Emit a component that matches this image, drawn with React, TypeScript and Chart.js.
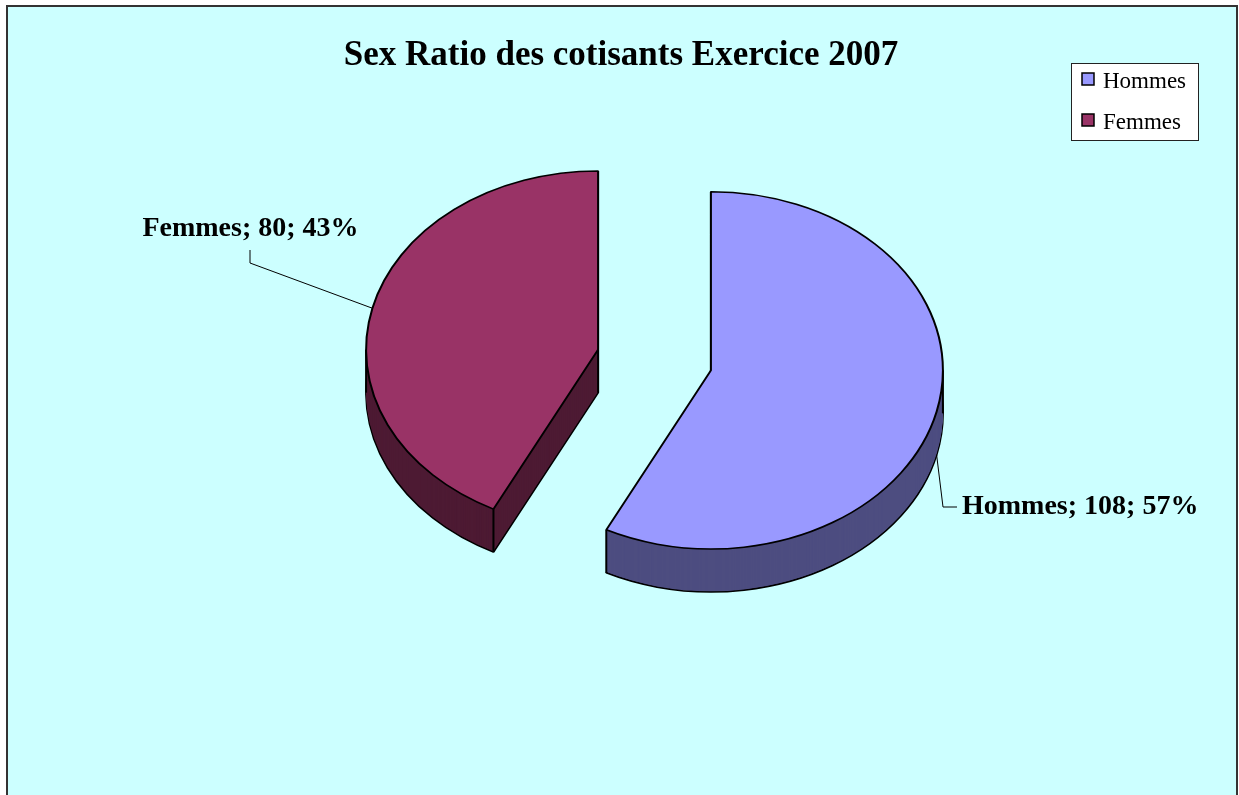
import React, { useEffect, useRef } from "react";
import { Chart, registerables } from "chart.js";

Chart.register(...registerables);

const titleText = "Sex Ratio des cotisants Exercice 2007";
const categories = ["Hommes", "Femmes"];
const values = [108, 80];
const topColors = ["#9999FF", "#993366"];
const sideColors = ["#4D4D80", "#4D1A33"];

const SERIF = "'Liberation Serif', 'Times New Roman', serif";
const SQUASH = 0.77; // vertical tilt of the pie
const EXPLODE = 58; // explosion distance (px)
const DEPTH = 43; // thickness of the 3D pie (px)

const pie3dPlugin = {
  id: "pie3d",
  beforeDatasetsDraw(chart: any) {
    const ctx = chart.ctx as CanvasRenderingContext2D;
    const meta = chart.getDatasetMeta(0);
    meta.data.forEach((arc: any, i: number) => {
      const mid = (arc.startAngle + arc.endAngle) / 2;
      const ox = Math.cos(mid) * EXPLODE;
      const oy = Math.sin(mid) * EXPLODE * SQUASH;
      const cx = arc.x;
      const cy = arc.y;
      const r = arc.outerRadius;
      const withT = (dy: number, fn: () => void) => {
        ctx.save();
        ctx.translate(ox, oy + dy);
        ctx.translate(cx, cy);
        ctx.scale(1, SQUASH);
        ctx.translate(-cx, -cy);
        fn();
        ctx.restore();
      };
      const orig = arc.options;
      // bottom face with outline
      arc.options = { ...orig, backgroundColor: sideColors[i], borderColor: "#000", borderWidth: 2 };
      withT(DEPTH, () => arc.draw(ctx));
      // side fill
      arc.options = { ...orig, backgroundColor: sideColors[i], borderWidth: 0 };
      for (let d = DEPTH - 1; d >= 1; d--) withT(d, () => arc.draw(ctx));
      arc.options = orig;
      // vertical edges
      const norm = (a: number) => {
        const t = Math.PI * 2;
        return ((a % t) + t) % t;
      };
      const inArc = (a: number) => {
        const s = norm(arc.startAngle);
        const span = arc.endAngle - arc.startAngle;
        const rel = norm(a - s);
        return rel <= span;
      };
      const pts: [number, number][] = [[0, 0]];
      pts.push([Math.cos(arc.startAngle) * r, Math.sin(arc.startAngle) * r]);
      pts.push([Math.cos(arc.endAngle) * r, Math.sin(arc.endAngle) * r]);
      if (inArc(0)) pts.push([r, 0]);
      if (inArc(Math.PI)) pts.push([-r, 0]);
      ctx.save();
      ctx.strokeStyle = "#000";
      ctx.lineWidth = 2;
      pts.forEach(([px, py]) => {
        const sx = cx + ox + px;
        const sy = cy + oy + py * SQUASH;
        ctx.beginPath();
        ctx.moveTo(sx, sy);
        ctx.lineTo(sx, sy + DEPTH);
        ctx.stroke();
      });
      ctx.restore();
      // top face
      withT(0, () => arc.draw(ctx));
    });
    return false;
  },
  afterDraw(chart: any) {
    const ctx = chart.ctx as CanvasRenderingContext2D;
    const meta = chart.getDatasetMeta(0);
    const ds = chart.data.datasets[0];
    const total = (ds.data as number[]).reduce((a, b) => a + b, 0);

    // title
    ctx.save();
    ctx.fillStyle = "#000";
    ctx.font = `bold 35px ${SERIF}`;
    ctx.textAlign = "center";
    ctx.textBaseline = "alphabetic";
    ctx.fillText(titleText, 621, 65);
    ctx.restore();

    // legend
    ctx.save();
    ctx.fillStyle = "#fff";
    ctx.fillRect(1071, 63, 127, 77);
    ctx.strokeStyle = "#222";
    ctx.lineWidth = 1;
    ctx.strokeRect(1071.5, 63.5, 127, 77);
    ctx.font = `23px ${SERIF}`;
    ctx.textAlign = "left";
    ctx.textBaseline = "alphabetic";
    chart.data.labels.forEach((lab: string, i: number) => {
      const y = 73 + i * 41;
      ctx.fillStyle = (ds.backgroundColor as string[])[i];
      ctx.fillRect(1082, y, 12, 12);
      ctx.strokeStyle = "#000";
      ctx.lineWidth = 1.5;
      ctx.strokeRect(1082, y, 12, 12);
      ctx.fillStyle = "#000";
      ctx.fillText(lab, 1103, y + 15);
    });
    ctx.restore();

    // data labels with leader lines
    ctx.save();
    ctx.font = `bold 28px ${SERIF}`;
    ctx.fillStyle = "#000";
    ctx.strokeStyle = "#000";
    ctx.lineWidth = 1;
    meta.data.forEach((arc: any, i: number) => {
      const v = (ds.data as number[])[i];
      const txt = `${chart.data.labels[i]}; ${v}; ${Math.round((v / total) * 100)}%`;
      const mid = (arc.startAngle + arc.endAngle) / 2;
      const ox = Math.cos(mid) * EXPLODE;
      const oy = Math.sin(mid) * EXPLODE * SQUASH;
      const ax = arc.x + ox + Math.cos(mid) * arc.outerRadius;
      const ay = arc.y + oy + Math.sin(mid) * arc.outerRadius * SQUASH;
      ctx.beginPath();
      if (Math.cos(mid) >= 0) {
        const sy = ay + DEPTH;
        ctx.moveTo(ax, sy);
        ctx.lineTo(943, 507);
        ctx.lineTo(957, 507);
        ctx.stroke();
        ctx.textAlign = "left";
        ctx.fillText(txt, 962, 514);
      } else {
        ctx.moveTo(ax, ay);
        ctx.lineTo(250, 263);
        ctx.lineTo(250, 250);
        ctx.stroke();
        ctx.textAlign = "center";
        ctx.fillText(txt, 250.5, 236);
      }
    });
    ctx.restore();
  },
};

export default function App() {
  const ref = useRef<HTMLCanvasElement | null>(null);
  useEffect(() => {
    if (!ref.current) return;
    const chart = new Chart(ref.current, {
      type: "pie",
      data: {
        labels: categories,
        datasets: [
          {
            data: values,
            backgroundColor: topColors,
            borderColor: "#000",
            borderWidth: 2,
          },
        ],
      },
      options: {
        responsive: false,
        animation: false,
        devicePixelRatio: 1,
        radius: 232,
        events: [],
        layout: { padding: { left: 70, right: 0, top: 0, bottom: 75 } },
        plugins: {
          legend: { display: false },
          title: { display: false },
          tooltip: { enabled: false },
        },
      } as any,
      plugins: [pie3dPlugin as any],
    });
    return () => chart.destroy();
  }, []);
  return (
    <div
      style={{
        position: "fixed",
        left: 0,
        top: 0,
        width: 1239,
        height: 795,
        background: "#fff",
        overflow: "hidden",
      }}
    >
      <div
        style={{
          position: "absolute",
          left: 6,
          top: 5,
          width: 1232,
          height: 820,
          boxSizing: "border-box",
          border: "2px solid #333",
          background: "#CCFFFF",
        }}
      />
      <canvas
        ref={ref}
        width={1239}
        height={795}
        style={{ position: "absolute", left: 0, top: 0 }}
      />
    </div>
  );
}
